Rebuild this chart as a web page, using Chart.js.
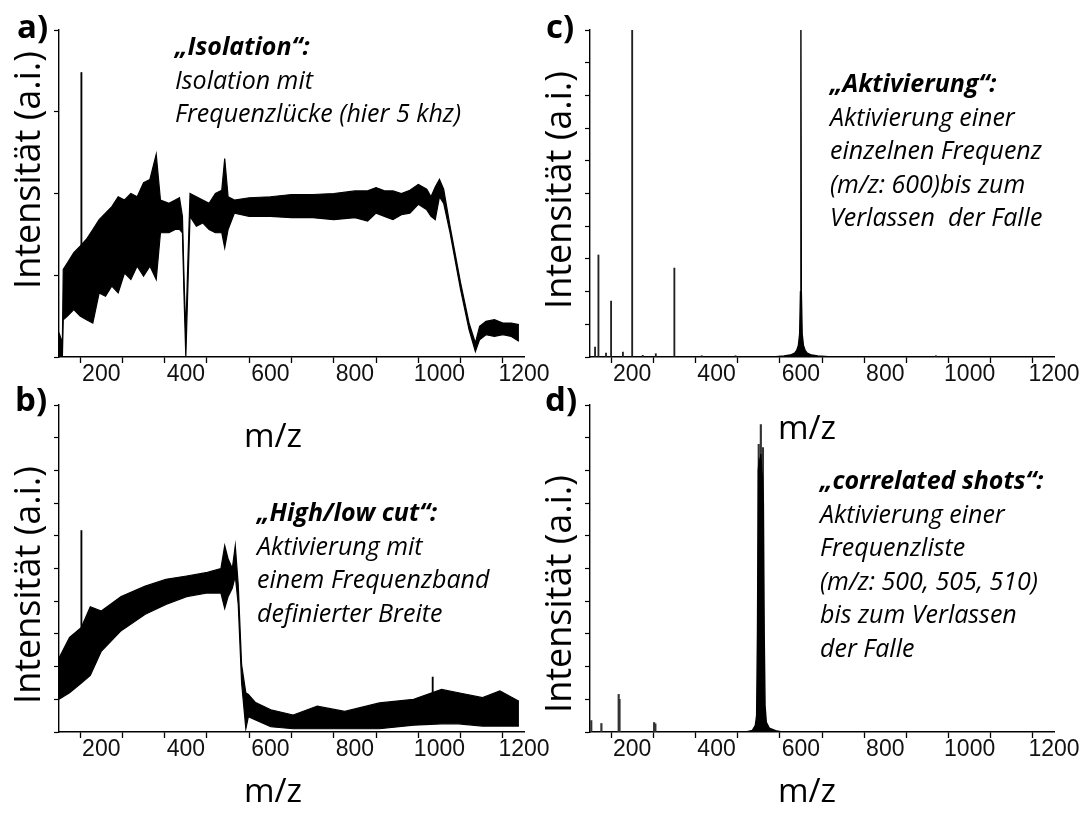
<!DOCTYPE html>
<html>
<head>
<meta charset="utf-8">
<script src="https://cdn.jsdelivr.net/npm/chart.js@4.4.0/dist/chart.umd.min.js"></script>
<style>
  html, body { margin: 0; padding: 0; background: #fff; }
  #wrap { position: relative; width: 1085px; height: 814px; overflow: hidden; }
  canvas { position: absolute; left: 0; top: 0; }
  .txt { position: absolute; font-family: 'Open Sans', sans-serif; color: #000; white-space: pre; }
  .note { font-style: italic; font-size: 25px; line-height: 33.5px; }
  .note b { font-weight: 700; }
  .lbl { font-weight: 700; font-size: 33px; line-height: 36px; }
  .axt { font-size: 33px; line-height: 40px; transform: translate(-50%, -50%); }
  .ytitle { font-size: 36px; line-height: 40px; transform: translate(-50%, -50%) rotate(-90deg); }
</style>
</head>
<body>
<div id="wrap">
  <canvas id="chartA" width="1085" height="814"></canvas>
  <canvas id="chartB" width="1085" height="814"></canvas>
  <canvas id="chartC" width="1085" height="814"></canvas>
  <canvas id="chartD" width="1085" height="814"></canvas>

  <div class="txt lbl" style="left:17px; top:8px;">a)</div>
  <div class="txt lbl" style="left:15px; top:381px;">b)</div>
  <div class="txt lbl" style="left:546px; top:8px;">c)</div>
  <div class="txt lbl" style="left:545px; top:381px;">d)</div>

  <div class="txt ytitle" style="left:27px; top:170px;">Intensität (a.i.)</div>
  <div class="txt ytitle" style="left:27px; top:585px;">Intensität (a.i.)</div>
  <div class="txt ytitle" style="left:558px; top:190px;">Intensität (a.i.)</div>
  <div class="txt ytitle" style="left:558px; top:594px;">Intensität (a.i.)</div>

  <div class="txt axt" style="left:273px; top:435px;">m/z</div>
  <div class="txt axt" style="left:273px; top:790px;">m/z</div>
  <div class="txt axt" style="left:807px; top:427px;">m/z</div>
  <div class="txt axt" style="left:807px; top:790px;">m/z</div>

  <div class="txt note" style="left:175px; top:29px;"><b>„Isolation“:</b>
Isolation mit
Frequenzlücke (hier 5 khz)</div>
  <div class="txt note" style="left:257px; top:495px;"><b>„High/low cut“:</b>
Aktivierung mit
einem Frequenzband
definierter Breite</div>
  <div class="txt note" style="left:830px; top:66px;"><b>„Aktivierung“:</b>
Aktivierung einer
einzelnen Frequenz
(m/z: 600)bis zum
Verlassen  der Falle</div>
  <div class="txt note" style="left:820px; top:463px;"><b>„correlated shots“:</b>
Aktivierung einer
Frequenzliste
(m/z: 500, 505, 510)
bis zum Verlassen
der Falle</div>
</div>

<script>
// a) Isolation - noisy trace read as upper / lower envelope
const aMz = [100, 108, 110, 120, 135, 150, 165, 180, 195, 210, 225, 240, 255, 270, 285, 300, 315, 330, 340, 360, 375, 385, 392, 396, 400, 404, 410, 425, 440, 455, 470, 485, 492, 500, 515, 550, 600, 650, 700, 750, 800, 830, 850, 870, 890, 910, 930, 950, 970, 980, 990, 1000, 1010, 1025, 1050, 1070, 1085, 1095, 1110, 1130, 1150, 1170, 1188];
const aTop = [7.4, 4.3, 26.8, 28.8, 31.9, 33.9, 36, 39, 42, 44, 46, 49, 48, 50, 49, 53.3, 54.3, 62, 48, 47, 48, 48.7, 43, 22.7, 7.4, 25.7, 50, 49, 48, 47, 50, 51, 60.7, 49, 48, 48.7, 49, 49.7, 49.7, 50, 50.8, 50.8, 51.8, 50.8, 50.8, 50, 51, 52.8, 51.3, 49, 52, 54.3, 51.3, 40, 22.7, 10.4, 4.3, 9.4, 10.9, 11.4, 10.4, 10.4, 9.9];
const aLow = [0, 0, 11.4, 12.5, 14.5, 12.5, 11.4, 10.4, 19.6, 18.6, 21.7, 19.6, 25.7, 23.7, 27.8, 24.7, 27.8, 23.7, 38, 38, 39, 39, 38, 17.6, 0, 17.6, 43, 40, 41, 39, 38, 38, 33.4, 39, 44, 43, 43, 42.6, 42.6, 42, 42.6, 41.6, 44, 43, 42, 43.5, 44, 46.7, 45, 43, 42, 49, 47, 38, 20.6, 8.4, 1.7, 5.3, 6.8, 6.3, 6.8, 6.3, 4.8];
const aSpikeMz = [153];
const aSpikeFrom = [30];
const aSpikeTo = [87];

// b) High/low cut
const bMz = [100, 125, 153, 174, 200, 247, 304, 353, 402, 451, 483, 492, 500, 510, 517, 524, 532, 542, 548, 565, 601, 654, 711, 776, 858, 939, 1005, 1045, 1102, 1143, 1188];
const bTop = [22.6, 28.9, 32, 38.3, 37, 41.4, 44.6, 46.7, 47.7, 48.8, 50, 57, 53, 50, 57, 45, 20.5, 12, 11.5, 9, 6.8, 5.2, 7.9, 6.3, 8.9, 10, 13, 12, 10.5, 12.6, 9.4];
const bLow = [10, 12, 15, 17.3, 24.7, 31, 36, 39, 41.4, 42.5, 42.5, 37.8, 41.4, 44, 47.7, 39, 15, 1, 4.7, 3.7, 1.6, 1, 1, 1, 1, 2.1, 2.5, 2.5, 1.8, 1.8, 1.8];
const bSpikeMz = [153, 984];
const bSpikeFrom = [30, 8];
const bSpikeTo = [61.6, 16.8];

// c) Aktivierung - stick peaks + resonance at 600
const cStickMz = [112, 120, 138, 150, 178, 200, 225, 256, 300, 365, 445, 920];
const cStickI = [3, 31.2, 1.2, 17.1, 1.5, 100, 0.5, 1, 27.2, 0.4, 0.4, 0.4];
const cPeakMz = [540, 560, 575, 585, 590, 594, 597, 599, 600, 601, 603, 606, 610, 615, 625, 640, 665, 700];
const cPeakI = [0.1, 0.3, 0.6, 1.2, 2, 3.5, 7, 20, 100, 20, 7, 3.5, 2, 1.2, 0.6, 0.3, 0.1, 0];

// d) correlated shots
const dStickMz = [103, 127, 168, 170, 252, 255, 500, 505, 510];
const dStickI = [3.5, 2.6, 11.5, 10, 2.9, 2.5, 88, 94, 87];
const dPeakMz = [470, 485, 492, 495, 497, 499, 501, 503, 505, 507, 509, 511, 513, 515, 518, 525, 540, 555];
const dPeakI = [0, 0.5, 2, 5, 30, 80, 83, 82, 85, 80, 78, 70, 30, 8, 3, 1.2, 0.4, 0];

const W = 1085, H = 814;
const Y_W = 12, X_H = 40;

const pts = (xs, ys) => xs.map((x, i) => ({ x: x, y: ys[i] }));
const ranges = (xs, lo, hi) => xs.map((x, i) => ({ x: x, y: [lo[i], hi[i]] }));

function band(xs, top, low) {
    return [
        { type: 'line', data: pts(xs, top), borderColor: '#000', borderWidth: 1.2,
          backgroundColor: '#000', fill: '+1', pointRadius: 0, tension: 0 },
        { type: 'line', data: pts(xs, low), borderColor: '#000', borderWidth: 1.2,
          pointRadius: 0, tension: 0, fill: false }
    ];
}

function sticks(data, color, thick) {
    return { type: 'bar', data: data, backgroundColor: color, borderWidth: 0,
             barThickness: thick, grouped: false };
}

function panelOptions(box, yStep, yTick) {
    return {
        responsive: false,
        animation: false,
        events: [],
        layout: { padding: { left: box.left - Y_W, top: box.top, right: W - box.right, bottom: H - box.bottom - X_H } },
        plugins: { legend: { display: false }, tooltip: { enabled: false } },
        scales: {
            x: {
                type: 'linear', min: 100, max: 1200, offset: false,
                ticks: {
                    stepSize: 100, autoSkip: false, maxRotation: 0, padding: -2,
                    color: '#111', font: { family: 'Liberation Sans', size: 23 },
                    callback: v => (v % 200 === 0 ? v : '')
                },
                grid: { drawOnChartArea: false, drawTicks: true, tickLength: 6, tickColor: '#000', tickWidth: 1.3 },
                border: { color: '#000', width: 1.4 },
                afterFit: s => { s.height = X_H; }
            },
            y: {
                type: 'linear', min: 0, max: 100,
                ticks: { stepSize: yStep, callback: () => '' },
                grid: { drawOnChartArea: false, drawTicks: true, tickLength: yTick, tickColor: '#000', tickWidth: 1.2 },
                border: { color: '#000', width: 1.4 },
                afterFit: s => { s.width = Y_W; }
            }
        }
    };
}

new Chart(document.getElementById('chartA'), {
    type: 'line',
    data: { datasets: [...band(aMz, aTop, aLow), sticks(ranges(aSpikeMz, aSpikeFrom, aSpikeTo), '#000', 1.2)] },
    options: panelOptions({ left: 59, right: 524, top: 30, bottom: 357 }, 25, 5)
});

new Chart(document.getElementById('chartB'), {
    type: 'line',
    data: { datasets: [...band(bMz, bTop, bLow), sticks(ranges(bSpikeMz, bSpikeFrom, bSpikeTo), '#000', 1.2)] },
    options: panelOptions({ left: 59, right: 524, top: 405, bottom: 732 }, 10, 5)
});

new Chart(document.getElementById('chartC'), {
    type: 'line',
    data: { datasets: [
        { type: 'line', data: pts(cPeakMz, cPeakI), borderColor: '#000', borderWidth: 1.4,
          backgroundColor: '#000', fill: 'origin', pointRadius: 0, tension: 0 },
        sticks(pts(cStickMz, cStickI), '#222', 1.2)
    ] },
    options: panelOptions({ left: 590, right: 1054, top: 30, bottom: 357 }, 5, 5)
});

new Chart(document.getElementById('chartD'), {
    type: 'line',
    data: { datasets: [
        { type: 'line', data: pts(dPeakMz, dPeakI), borderColor: '#000', borderWidth: 1.4,
          backgroundColor: '#000', fill: 'origin', pointRadius: 0, tension: 0 },
        sticks(pts(dStickMz, dStickI), '#333', 1.5)
    ] },
    options: panelOptions({ left: 590, right: 1054, top: 405, bottom: 732 }, 10, 5)
});
</script>
</body>
</html>
